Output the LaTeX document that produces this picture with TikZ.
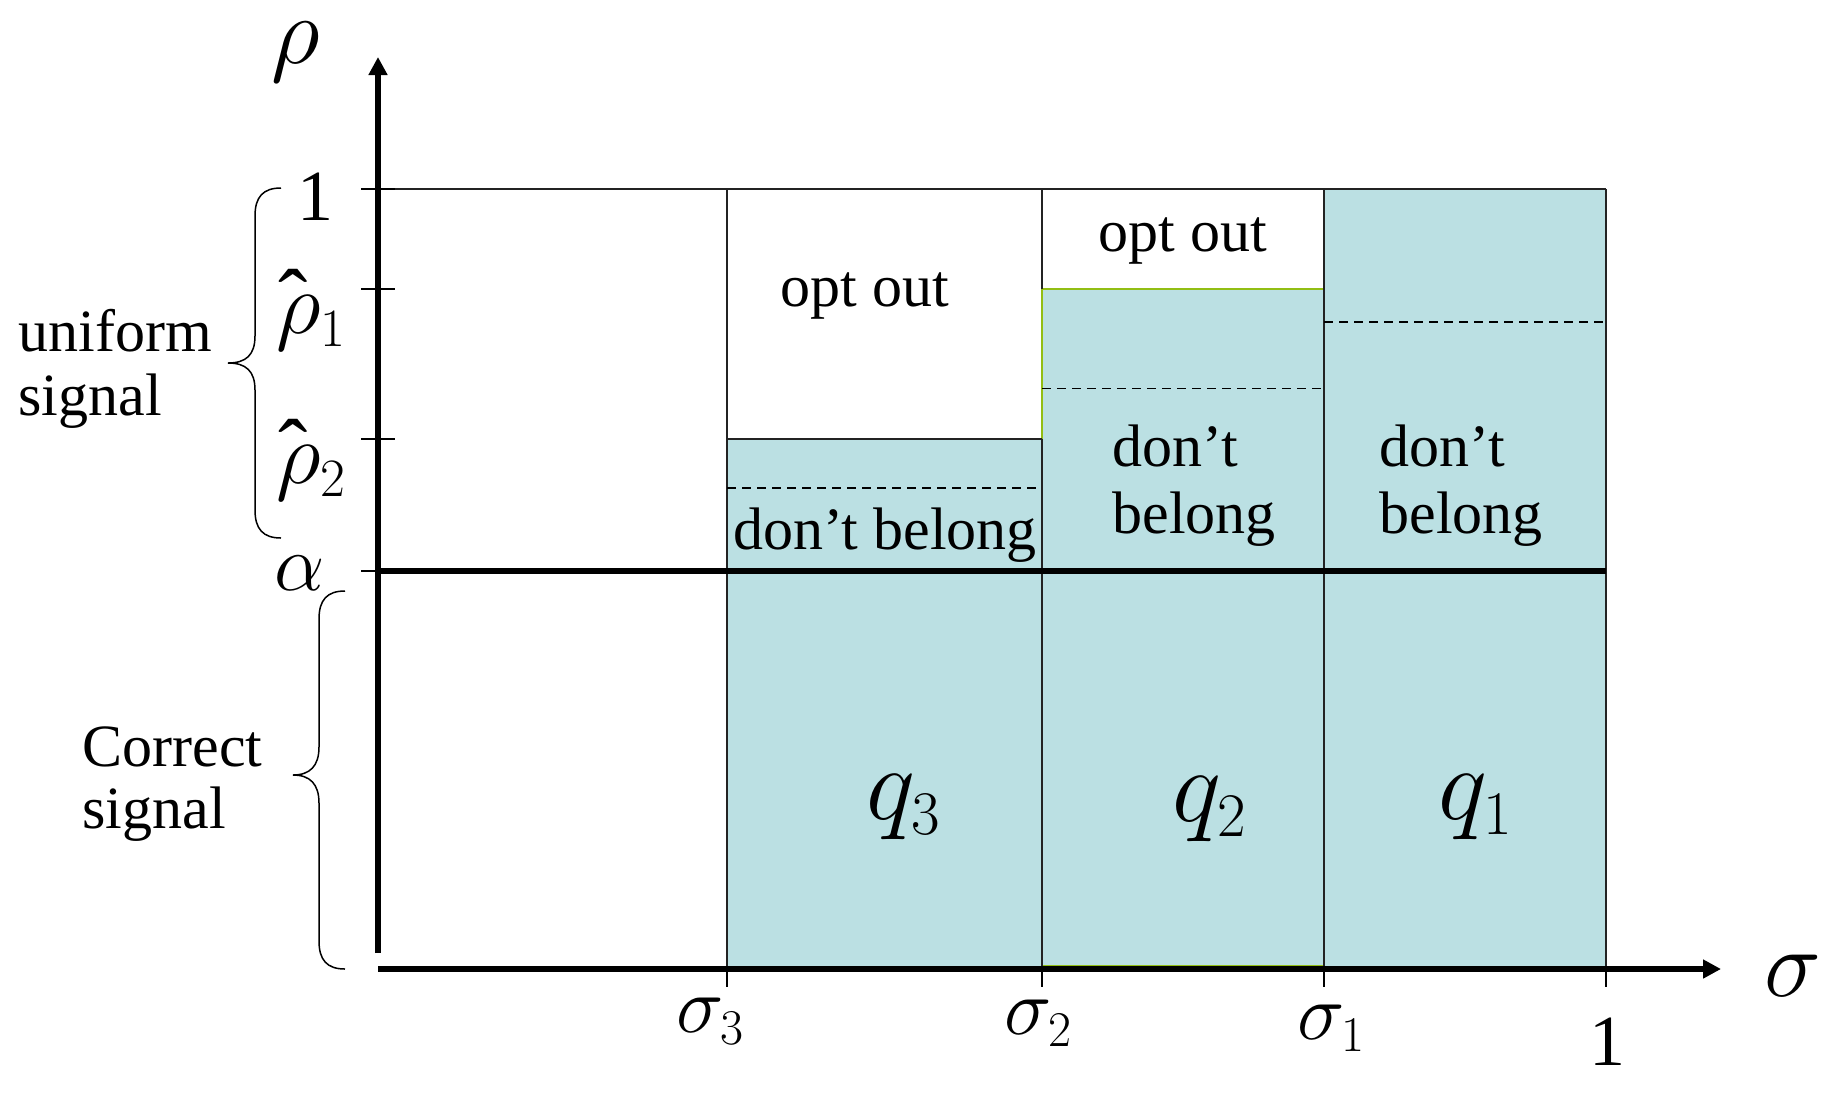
\RequirePackage{fix-cm}
\documentclass[tikz,border=0pt]{standalone}
\usepackage{fontspec}
\setmainfont{Liberation Serif}
\usetikzlibrary{arrows.meta}
\definecolor{boxfill}{RGB}{187,224,227}
\definecolor{edgegreen}{RGB}{146,190,20}
\definecolor{edgegray}{RGB}{35,35,35}
\DeclareMathSizes{36}{36}{22}{16}
\DeclareMathSizes{40}{40}{25}{18}
\DeclareMathSizes{44}{44}{27}{20}
\DeclareMathSizes{48}{48}{29}{22}
\DeclareMathSizes{52}{52}{31}{24}
\newcommand{\hatrho}[1]{\rlap{\hspace{0.02em}\raisebox{0.03em}{ˆ}}$\rho_{#1}$}
\begin{document}
\begin{tikzpicture}[x=0.5pt,y=-0.5pt,
  thinline/.style={line width=0.75pt, draw=edgegray},
  greenline/.style={line width=0.9pt, draw=edgegreen},
  dashline/.style={line width=0.7pt, draw=black, dash pattern=on 4.5pt off 3pt},
  axisline/.style={line width=3pt, draw=black},
  axisarrow/.style={axisline, -{Triangle[length=9pt,width=9pt]}},
  ticklines/.style={line width=0.75pt, draw=black},
  bracepath/.style={line width=0.75pt, draw=black},
  txt/.style={inner sep=0pt, font=\fontsize{30}{33}\selectfont},
  numlbl/.style={inner sep=0pt, font=\fontsize{36}{40}\selectfont},
  glbl/.style={inner sep=0pt, font=\fontsize{40}{44}\selectfont},
  hlbl/.style={inner sep=0pt, font=\fontsize{44}{48}\selectfont},
  axlbl/.style={inner sep=0pt, font=\fontsize{48}{52}\selectfont},
  qlbl/.style={inner sep=0pt, font=\fontsize{52}{56}\selectfont}
]
\useasboundingbox (0,0) rectangle (1835,1093);

% key coordinates
\coordinate (yb) at (378,953);
\coordinate (yt) at (378,57);
\coordinate (x0) at (378,969);
\coordinate (xe) at (1721,969);

% filled regions
\fill[boxfill] (727,439) rectangle (1042,969);
\fill[boxfill] (1042,289) rectangle (1324,969);
\fill[boxfill] (1324,189) rectangle (1606,969);

% green outline of middle block
\draw[greenline] (1042,966) -- (1042,289) -- (1324,289);
\draw[greenline] (1042,966) -- (1324,966);

% thin black frame lines
\draw[thinline] (378,189) -- (1606,189);
\draw[thinline] (727,189) -- (727,969);
\draw[thinline] (1042,189) -- (1042,289);
\draw[thinline] (1042,439) -- (1042,969);
\draw[thinline] (727,439) -- (1042,439);
\draw[thinline] (1324,189) -- (1324,969);
\draw[thinline] (1606,189) -- (1606,969);

% dashed lines
\draw[dashline] (727,488) -- (1042,488);
\draw[dashline] (1042,388.5) -- (1324,388.5);
\draw[dashline] (1324,322) -- (1606,322);

% alpha line
\draw[axisline] (378,571) -- (1606,571);

% axes
\draw[axisarrow] (yb) -- (yt);
\draw[axisarrow] (x0) -- (xe);

% ticks on vertical axis
\foreach \yy in {189,289,439,571} {
  \draw[ticklines] (361,\yy) -- (395,\yy);
}
% ticks on horizontal axis
\foreach \xx in {727,1042,1324,1606} {
  \draw[ticklines] (\xx,969) -- (\xx,987);
}

% braces
\draw[bracepath] (281,188) .. controls (263,188) and (255,197) .. (255,216)
  -- (255,336) .. controls (255,355) and (246,363) .. (228,363)
  .. controls (246,363) and (255,371) .. (255,390)
  -- (255,510) .. controls (255,529) and (263,538) .. (281,538);
\draw[bracepath] (345,591) .. controls (327,591) and (319,600) .. (319,619)
  -- (319,747) .. controls (319,766) and (310,775) .. (293,775)
  .. controls (310,775) and (319,784) .. (319,803)
  -- (319,941) .. controls (319,960) and (327,969) .. (345,969);

% axis labels
\node[axlbl] (rho) at (296,52) {$\rho$};
\node[axlbl] (sigma) at (1793,976) {$\sigma$};
\node[numlbl, anchor=base] (one-y) at (315,220) {1};
\node[hlbl, anchor=base west] (rh1) at (276,333) {\hatrho{1}};
\node[hlbl, anchor=base west] (rh2) at (276,483) {\hatrho{2}};
\node[glbl, anchor=base west] (alpha) at (274,590) {$\alpha$};
\node[glbl, anchor=base west] (s3) at (676,1032) {$\sigma_3$};
\node[glbl, anchor=base west] (s2) at (1004,1034) {$\sigma_2$};
\node[glbl, anchor=base west] (s1) at (1297,1039) {$\sigma_1$};
\node[numlbl, anchor=base] (one-x) at (1607,1065) {1};

% side labels
\node[txt, anchor=base west] (uni-a) at (18,351) {uniform};
\node[txt, anchor=base west] (uni-b) at (18,415) {signal};
\node[txt, anchor=base west] (cor-a) at (82,766) {Correct};
\node[txt, anchor=base west] (cor-b) at (82,828) {signal};

% block labels
\node[txt, anchor=base] (opt3) at (865,306) {opt out};
\node[txt, anchor=base] (opt2) at (1183,251) {opt out};
\node[txt, anchor=base] (db3) at (885,549) {don’t belong};
\node[txt, anchor=base west] (db2a) at (1112,466) {don’t};
\node[txt, anchor=base west] (db2b) at (1112,533) {belong};
\node[txt, anchor=base west] (db1a) at (1379,466) {don’t};
\node[txt, anchor=base west] (db1b) at (1379,533) {belong};

\node[qlbl, anchor=base west] (q3) at (866,819) {$q_3$};
\node[qlbl, anchor=base west] (q2) at (1172,821) {$q_2$};
\node[qlbl, anchor=base west] (q1) at (1438,819) {$q_1$};
\end{tikzpicture}
\end{document}
